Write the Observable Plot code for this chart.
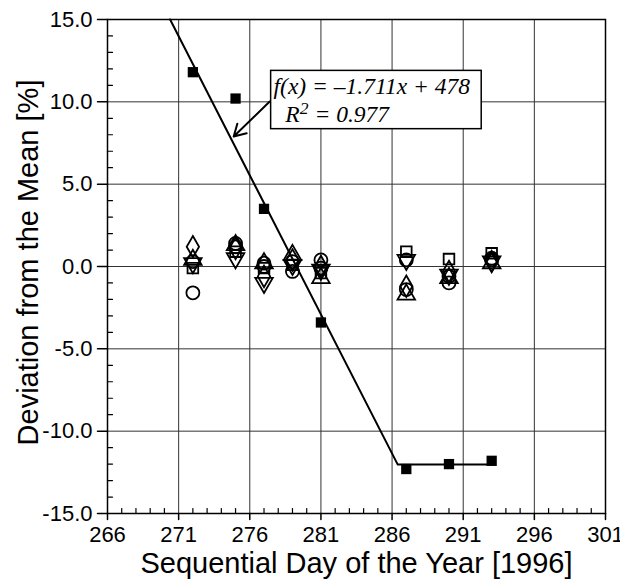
<!DOCTYPE html>
<html><head><meta charset="utf-8">
<script src="https://cdn.jsdelivr.net/npm/d3@7"></script>
<script src="https://cdn.jsdelivr.net/npm/@observablehq/plot@0.6"></script>
<style>body{margin:0;background:#fff}</style>
</head><body><div id="chart"></div>
<script>
// Tick labels
const xMajor = [266, 271, 276, 281, 286, 291, 296, 301];
const yMajor = [-15, -10, -5, 0, 5, 10, 15];
const xMinor = d3.range(266, 302).filter(d => !xMajor.includes(d));
const yMinor = d3.range(-15, 16).filter(d => !yMajor.includes(d));

// Filled squares (fitted series)
const fitDays = [272, 275, 277, 281, 287, 290, 293];
const fitVals = [11.8, 10.2, 3.5, -3.4, -12.3, -12.0, -11.8];

// Fit line: f(x) = -1.711x + 478, then the plateau
const fitLineX = [270.4, 286.4, 293];
const fitLineY = [15, -12.03, -12.03];

// Open-symbol series
const days = [272, 275, 277, 279, 281, 287, 290, 293];
const circleA  = [-1.6, 1.4, 0.2, 0.3, 0.4, -1.4, -0.6, 0.5];
const circleB  = [0.3, 1.2, 0.0, -0.3, -0.1, 0.4, -1.0, 0.4];
const squareS  = [-0.1, 0.9, -0.1, 0.1, -0.4, 0.9, 0.45, 0.8];
const diamondS = [1.2, 1.1, -0.6, 0.4, 0.0, -1.2, -0.3, 0.3];
const triUpS   = [0.4, 1.3, 0.2, 0.7, -0.7, -1.7, -0.7, 0.2];
const triDownS = [0.2, 0.5, -1.0, 0.1, -0.2, 0.4, -0.5, 0.3];

// Annotation
const eqText = "f(x) = \u20131.711x + 478";
const r2Text = "R\u00B2 = 0.977";
const boxX = [277.5, 292.3];
const boxY = [8.34, 11.88];
const arrowFrom = [277.4, 10.02];
const arrowTo = [274.87, 7.89];

const xTitle = "Sequential Day of the Year [1996]";
const yTitle = "Deviation from the Mean [%]";

const triDown = {
  draw(context, size) {
    const y = -Math.sqrt(size / (Math.sqrt(3) * 3));
    context.moveTo(0, -y * 2);
    context.lineTo(-Math.sqrt(3) * y, y);
    context.lineTo(Math.sqrt(3) * y, y);
    context.closePath();
  }
};
const tickShape = {draw(context, l) { context.moveTo(0, 0); context.lineTo(0, -l); }};

const toPts = vals => days.map((d, i) => ({x: d, y: vals[i]}));
const fitPts = fitDays.map((d, i) => ({x: d, y: fitVals[i]}));
const linePts = fitLineX.map((d, i) => ({x: d, y: fitLineY[i]}));

const openStyle = {x: "x", y: "y", fill: "none", stroke: "black", strokeWidth: 1.8};
const serif = "'Liberation Serif', 'Times New Roman', serif";

const chart = Plot.plot({
  width: 620,
  height: 580,
  marginLeft: 107,
  marginRight: 15,
  marginTop: 19,
  marginBottom: 67,
  x: {domain: [266, 301], label: null, axis: null},
  y: {domain: [-15, 15], label: null, axis: null},
  style: {fontFamily: "'Liberation Sans', Arial, sans-serif", fontSize: "22px", background: "white", color: "black", overflow: "visible"},
  marks: [
    Plot.gridX(xMajor, {stroke: "#333", strokeOpacity: 1, strokeWidth: 1}),
    Plot.gridY(yMajor, {stroke: "#333", strokeOpacity: 1, strokeWidth: 1}),
    // major ticks (outward)
    Plot.vector(xMajor, {x: d => d, frameAnchor: "bottom", length: 6, rotate: 180, anchor: "start", shape: tickShape, stroke: "black", strokeWidth: 1.5}),
    Plot.vector(yMajor, {y: d => d, frameAnchor: "left", length: 10, rotate: 270, anchor: "start", shape: tickShape, stroke: "black", strokeWidth: 1.5}),
    // minor ticks (inward)
    Plot.vector(xMinor, {x: d => d, frameAnchor: "bottom", length: 5, rotate: 0, anchor: "start", shape: tickShape, stroke: "black", strokeWidth: 1.2}),
    Plot.vector(yMinor, {y: d => d, frameAnchor: "left", length: 5, rotate: 90, anchor: "start", shape: tickShape, stroke: "black", strokeWidth: 1.2}),
    // tick labels
    Plot.text(xMajor, {x: d => d, frameAnchor: "bottom", dy: 13, lineAnchor: "top", textAnchor: "middle", text: d => String(d), fontSize: 22}),
    Plot.text(yMajor, {y: d => d, frameAnchor: "left", dx: -15, lineAnchor: "middle", textAnchor: "end", text: d => d.toFixed(1), fontSize: 22}),
    Plot.frame({stroke: "black", strokeWidth: 1.5}),
    Plot.line(linePts, {x: "x", y: "y", stroke: "black", strokeWidth: 2}),
    Plot.dot(fitPts, {x: "x", y: "y", symbol: "square", r: 5.8, fill: "black"}),
    Plot.dot(toPts(circleA), {...openStyle, symbol: "circle", r: 6.5}),
    Plot.dot(toPts(circleB), {...openStyle, symbol: "circle", r: 6.5}),
    Plot.dot(toPts(squareS), {...openStyle, symbol: "square", r: 6}),
    Plot.dot(toPts(diamondS), {...openStyle, symbol: "diamond", r: 6.5}),
    Plot.dot(toPts(triUpS), {...openStyle, symbol: "triangle", r: 6.5}),
    Plot.dot(toPts(triDownS), {...openStyle, symbol: triDown, r: 6.5}),
    Plot.rect([{x1: boxX[0], x2: boxX[1], y1: boxY[0], y2: boxY[1]}], {x1: "x1", x2: "x2", y1: "y1", y2: "y2", fill: "white", stroke: "black", strokeWidth: 1.5}),
    Plot.text([eqText], {x: 277.67, y: 10.95, text: d => d, textAnchor: "start", lineAnchor: "middle", fontFamily: serif, fontStyle: "italic", fontSize: 23.5}),
    Plot.text([r2Text], {x: 278.5, y: 9.23, text: d => d, textAnchor: "start", lineAnchor: "middle", fontFamily: serif, fontStyle: "italic", fontSize: 23.5}),
    Plot.arrow([{x1: arrowFrom[0], y1: arrowFrom[1], x2: arrowTo[0], y2: arrowTo[1]}], {x1: "x1", y1: "y1", x2: "x2", y2: "y2", stroke: "black", strokeWidth: 2, headLength: 10}),
    Plot.text([xTitle], {frameAnchor: "bottom", dy: 50, textAnchor: "middle", lineAnchor: "middle", text: d => d, fontSize: 29}),
    Plot.text([yTitle], {frameAnchor: "left", dx: -79, dy: -4, rotate: -90, textAnchor: "middle", lineAnchor: "middle", text: d => d, fontSize: 29})
  ]
});

// Render R² with a real superscript 2
d3.select(chart).selectAll("text")
  .filter(function() { return this.textContent === r2Text; })
  .each(function() {
    const t = d3.select(this);
    t.text(null);
    t.append("tspan").text("R");
    t.append("tspan").attr("dy", "-0.45em").attr("font-size", "75%").text("2");
    t.append("tspan").attr("dy", "0.34em").text(" = 0.977");
  });

document.getElementById("chart").append(chart);
</script></body></html>
